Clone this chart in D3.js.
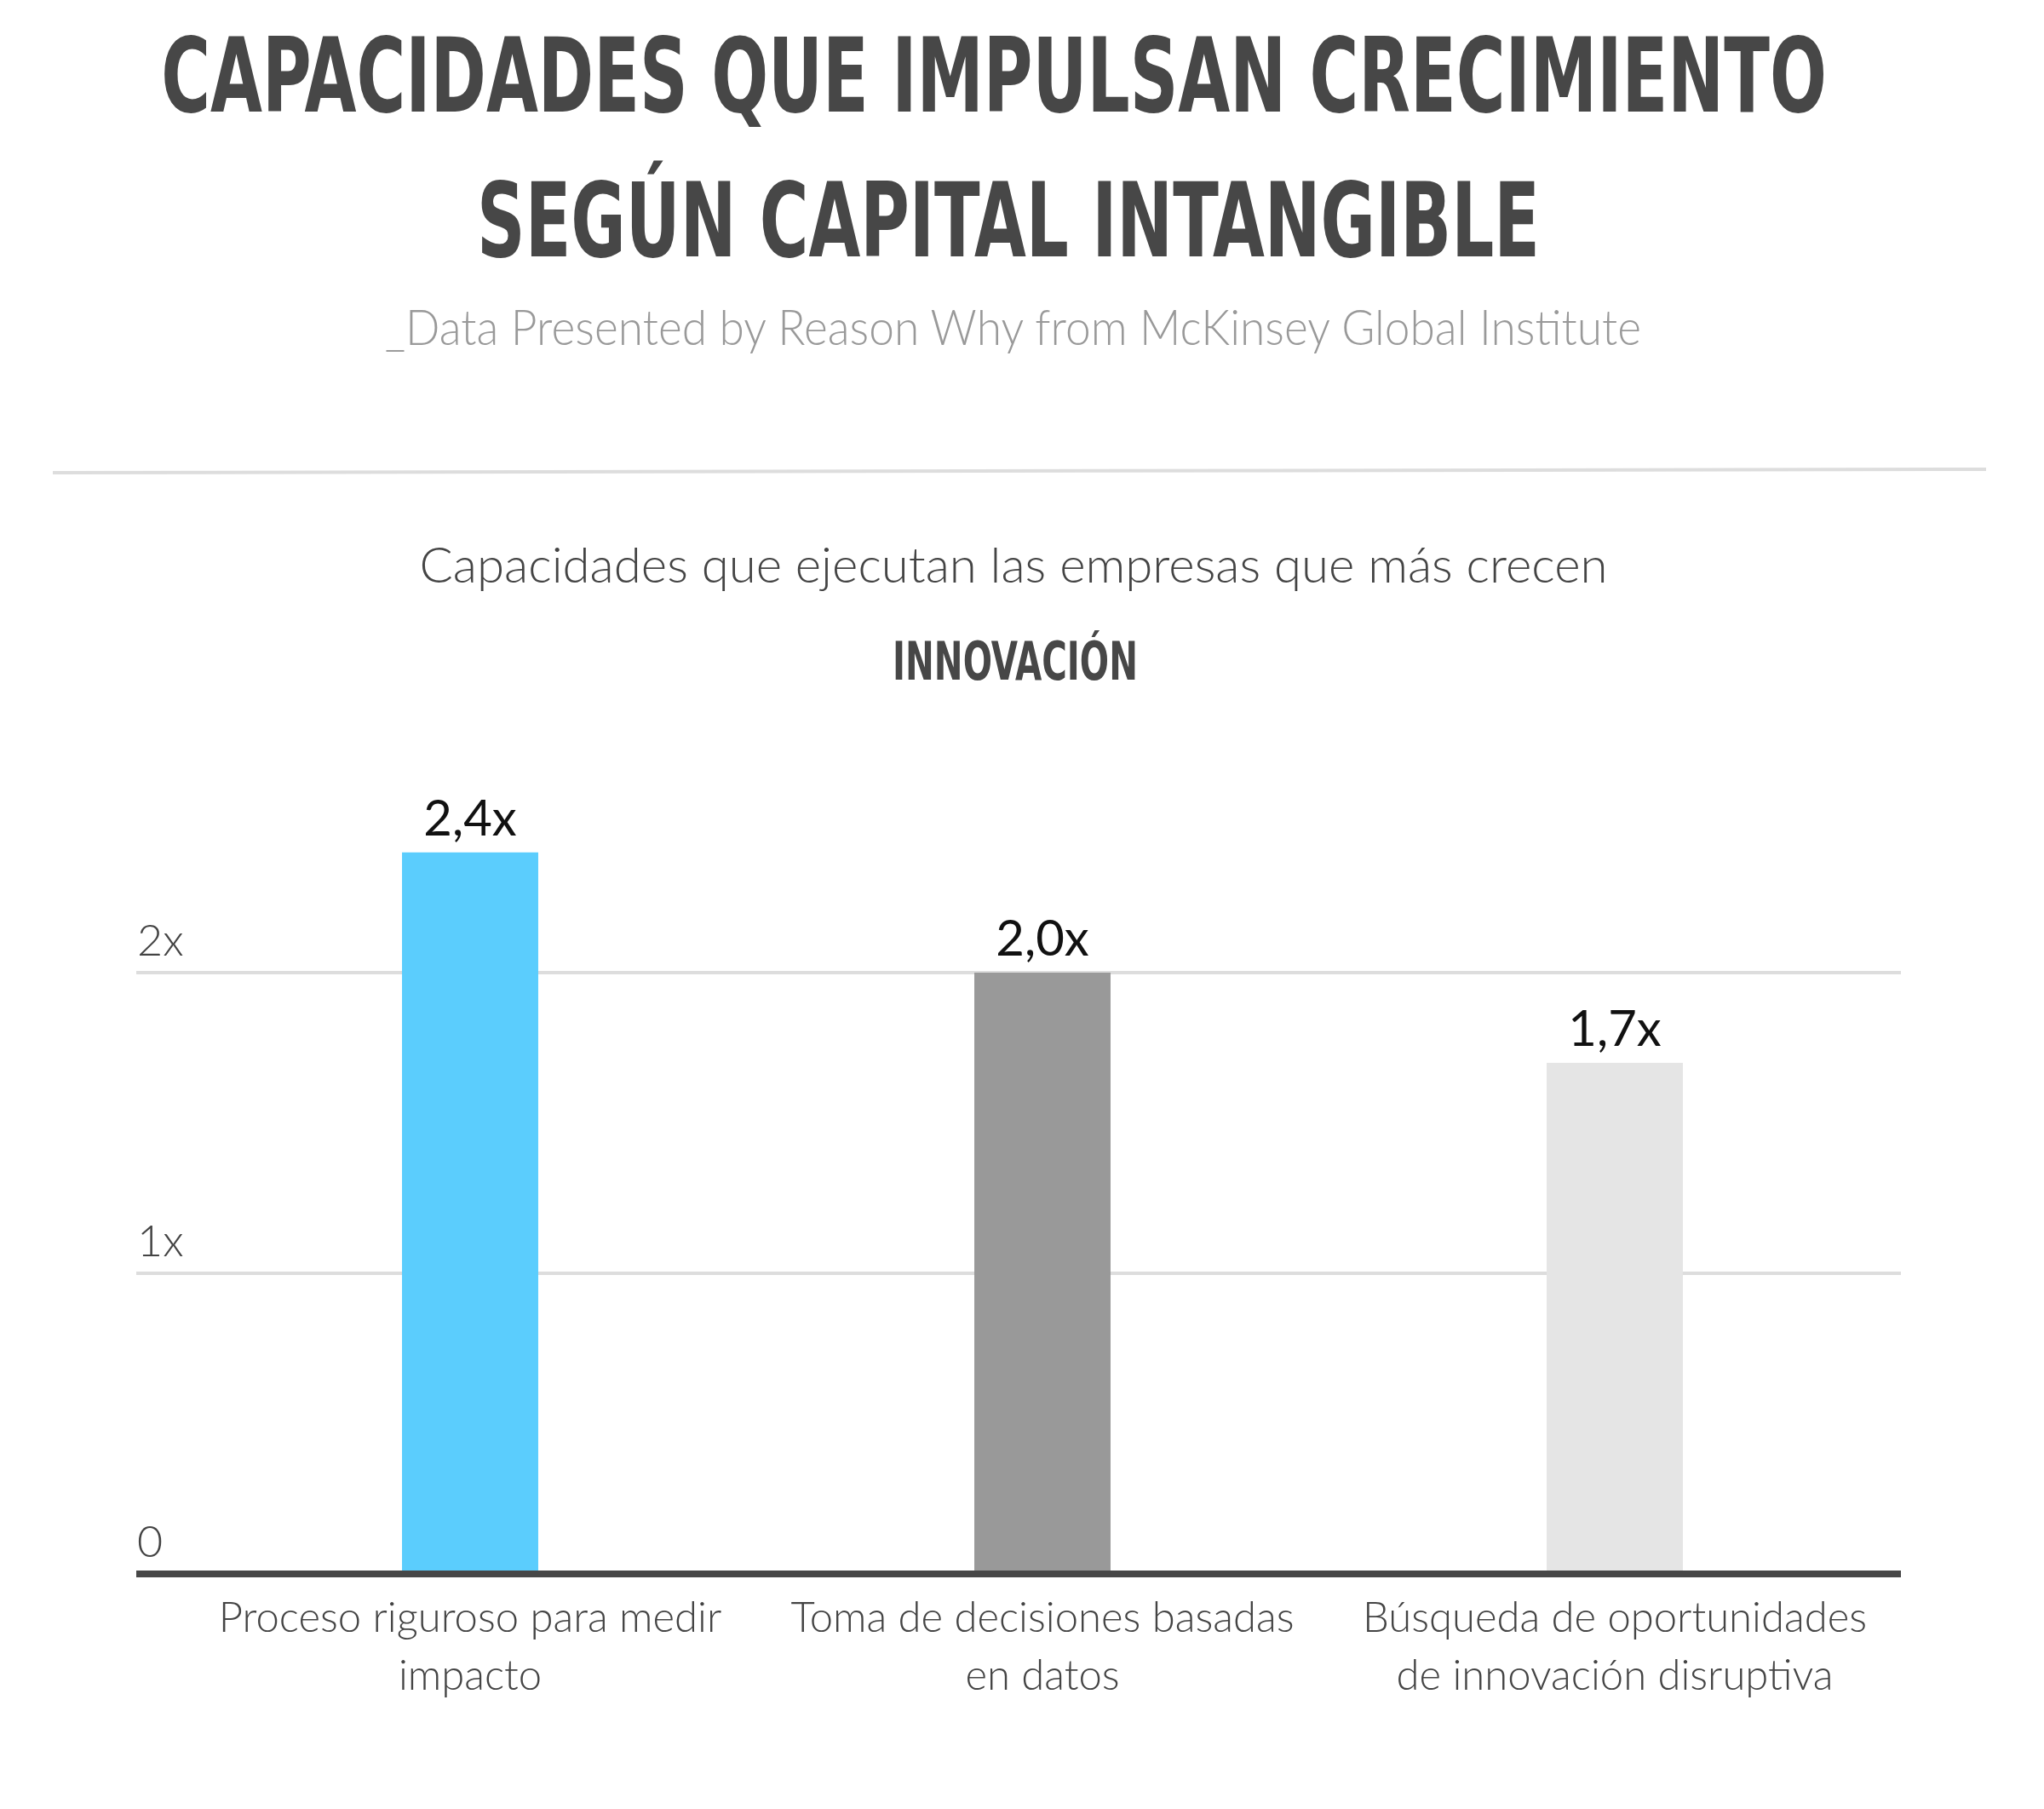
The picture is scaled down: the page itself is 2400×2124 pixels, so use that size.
<!DOCTYPE html>
<html lang="es">
<head>
<meta charset="UTF-8">
<title>Capacidades que impulsan crecimiento</title>
<script src="https://d3js.org/d3.v7.min.js"></script>
<style>
    body { margin: 0; background: #fff; }
    .title { font-family: "Liberation Sans Narrow", "DejaVu Sans Condensed", sans-serif; font-weight: bold; fill: #474747; text-anchor: middle; }
    .light { font-family: Lato, "Open Sans", sans-serif; font-weight: 300; }
    .grid line { stroke: #dddddd; stroke-width: 4; }
</style>
</head>
<body>
<svg width="2400" height="2124"></svg>
<script>
    // chart data
    const categories = [
        ["Proceso riguroso para medir", "impacto"],
        ["Toma de decisiones basadas", "en datos"],
        ["Búsqueda de oportunidades", "de innovación disruptiva"]
    ];
    const values = [2.4, 2.0, 1.7];
    const valueLabels = ["2,4x", "2,0x", "1,7x"];
    const barColors = ["#5bcdfd", "#999999", "#e5e5e5"];
    const tickValues = [0, 1, 2];
    const tickLabels = ["0", "1x", "2x"];

    const svg = d3.select("svg");

    // condensed heading: squeeze horizontally to the wanted width
    function heading(txt, cx, by, size, width) {
        const t = svg.append("text").attr("class", "title")
            .attr("font-size", size)
            .text(txt);
        const w = t.node().getComputedTextLength();
        t.attr("transform", `translate(${cx},${by}) scale(${width / w},1)`);
        return t;
    }

    // header
    heading("CAPACIDADES QUE IMPULSAN CRECIMIENTO", 1167, 131, 122, 1956);
    heading("SEGÚN CAPITAL INTANGIBLE", 1184, 301, 122, 1248);

    svg.append("text").attr("class", "light")
        .attr("x", 452).attr("y", 405)
        .attr("font-size", 58).attr("fill", "#999")
        .attr("textLength", 1475).attr("lengthAdjust", "spacingAndGlyphs")
        .text("_Data Presented by Reason Why from McKinsey Global Institute");

    svg.append("line")
        .attr("x1", 62).attr("y1", 555).attr("x2", 2332).attr("y2", 551)
        .attr("stroke", "#dddddd").attr("stroke-width", 4);

    svg.append("text").attr("class", "light")
        .attr("x", 1190).attr("y", 684)
        .attr("font-size", 58).attr("fill", "#444").attr("text-anchor", "middle")
        .attr("textLength", 1395).attr("lengthAdjust", "spacingAndGlyphs")
        .text("Capacidades que ejecutan las empresas que más crecen");

    heading("INNOVACIÓN", 1192, 798, 63, 288);

    // scales
    const x = d3.scaleBand()
        .domain(d3.range(values.length))
        .range([216, 2232])
        .paddingInner(0.762)
        .paddingOuter(0.381);
    const y = d3.scaleLinear().domain([0, 2.5]).range([1848, 1848 - 2.5 * 353]);

    // gridlines + tick labels (left-aligned above each line)
    const grid = svg.append("g").attr("class", "grid");
    grid.selectAll("line")
        .data(tickValues.filter(d => d > 0))
        .join("line")
        .attr("x1", 160).attr("x2", 2232)
        .attr("y1", d => y(d)).attr("y2", d => y(d));

    svg.append("g").selectAll("text")
        .data(tickValues)
        .join("text")
        .attr("class", "light")
        .attr("x", 161)
        .attr("y", d => y(d) - 20)
        .attr("font-size", 52).attr("fill", "#444")
        .text((d, i) => tickLabels[i]);

    // bars
    svg.append("g").selectAll("rect")
        .data(values)
        .join("rect")
        .attr("x", (d, i) => x(i))
        .attr("width", x.bandwidth())
        .attr("y", d => y(d))
        .attr("height", d => y(0) - y(d))
        .attr("fill", (d, i) => barColors[i]);

    // baseline
    svg.append("line")
        .attr("x1", 160).attr("x2", 2232)
        .attr("y1", y(0)).attr("y2", y(0))
        .attr("stroke", "#474747").attr("stroke-width", 8);

    // value labels
    svg.append("g").selectAll("text")
        .data(values)
        .join("text")
        .attr("x", (d, i) => x(i) + x.bandwidth() / 2)
        .attr("y", d => y(d) - 20)
        .attr("text-anchor", "middle")
        .attr("font-family", "Lato, 'Open Sans', sans-serif")
        .attr("font-size", 58).attr("fill", "#111")
        .text((d, i) => valueLabels[i]);

    // category labels
    const cat = svg.append("g").selectAll("text")
        .data(categories)
        .join("text")
        .attr("class", "light")
        .attr("text-anchor", "middle")
        .attr("font-size", 49).attr("fill", "#444");
    cat.selectAll("tspan")
        .data((d, i) => d.map(line => ({ line, i })))
        .join("tspan")
        .attr("x", d => x(d.i) + x.bandwidth() / 2)
        .attr("y", (d, j) => 1916 + j * 68)
        .text(d => d.line);
</script>
</body>
</html>
